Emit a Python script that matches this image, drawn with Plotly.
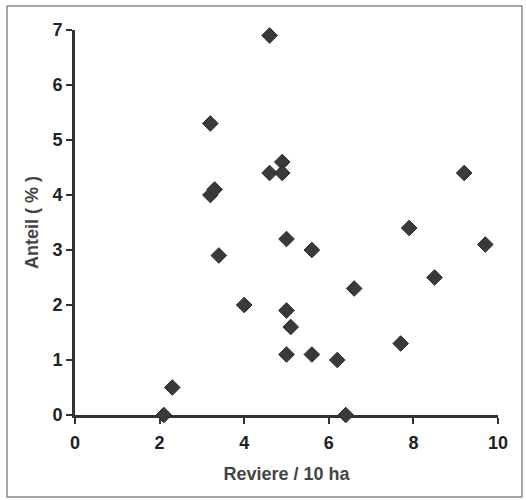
import plotly.graph_objects as go

# Data
reviere = [2.1, 2.3, 3.2, 3.2, 3.3, 3.4, 4.0, 4.6, 4.6, 4.9, 4.9, 5.0, 5.0, 5.1,
           5.0, 5.6, 5.6, 6.2, 6.4, 6.6, 7.7, 7.9, 8.5, 9.2, 9.7]
anteil = [0.0, 0.5, 5.3, 4.0, 4.1, 2.9, 2.0, 6.9, 4.4, 4.6, 4.4, 3.2, 1.9, 1.6,
          1.1, 3.0, 1.1, 1.0, 0.0, 2.3, 1.3, 3.4, 2.5, 4.4, 3.1]

x_ticks = [0, 2, 4, 6, 8, 10]
y_ticks = [0, 1, 2, 3, 4, 5, 6, 7]

W, H = 526, 500
L, R, T, B = 75, 28, 30, 85

fig = go.Figure()
fig.add_trace(go.Scatter(
    x=reviere, y=anteil, mode="markers",
    marker=dict(symbol="diamond", size=12, color="#3a3a3a",
                line=dict(color="#2a2a2a", width=1)),
    cliponaxis=False, showlegend=False,
))

font = "Liberation Sans, Arial, sans-serif"
axis_common = dict(
    showline=True, linewidth=3, linecolor="#333333",
    ticks="outside", ticklen=6, tickwidth=2, tickcolor="#333333",
    showgrid=False, zeroline=False, layer="below traces",
    tickfont=dict(family=font, size=18, color="#222222", weight="bold"),
)

fig.update_xaxes(range=[0, 10], tickvals=x_ticks, ticklabelstandoff=3,
                 title=dict(text="Reviere / 10 ha", standoff=16,
                            font=dict(family=font, size=18, color="#444444",
                                      weight="bold")),
                 **axis_common)
fig.update_yaxes(range=[0, 7], tickvals=y_ticks,
                 title=dict(text="Anteil ( % )", standoff=10,
                            font=dict(family=font, size=18, color="#444444",
                                      weight="bold")),
                 **axis_common)

pw, ph = W - L - R, H - T - B
fig.add_shape(type="rect", xref="paper", yref="paper",
              x0=(7 - L) / pw, x1=(522 - L) / pw,
              y0=(H - B - 497) / ph, y1=(H - B - 6) / ph,
              line=dict(color="#8a8a8a", width=1.5), layer="below")

fig.update_layout(
    width=W, height=H,
    margin=dict(l=L, r=R, t=T, b=B),
    paper_bgcolor="white", plot_bgcolor="white",
)

fig.write_html("out.html")
